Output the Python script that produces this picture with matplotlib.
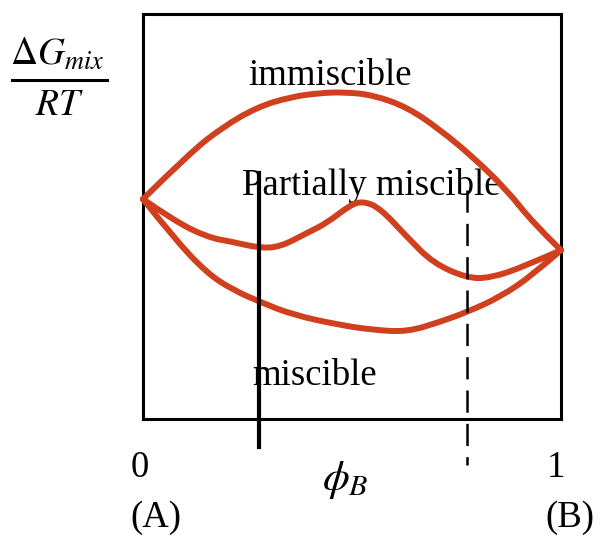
import matplotlib
matplotlib.use("Agg")
import matplotlib.pyplot as plt
from matplotlib.lines import Line2D
from matplotlib.path import Path
from matplotlib.patches import PathPatch

plt.rcParams['mathtext.fontset'] = 'stix'
plt.rcParams['lines.scale_dashes'] = False

# ---- data (phi_B, Delta G_mix / RT in arbitrary units) ----
imm_x = [0.0, 0.112, 0.191, 0.273, 0.352, 0.423, 0.483, 0.550, 0.632, 0.711, 0.789, 0.871, 0.933, 1.0]
imm_y = [0.543, 0.657, 0.721, 0.770, 0.795, 0.805, 0.807, 0.800, 0.770, 0.714, 0.647, 0.565, 0.484, 0.417]

part_x = [0.0, 0.072, 0.153, 0.215, 0.280, 0.328, 0.392, 0.440, 0.495, 0.526, 0.567, 0.632, 0.694, 0.775, 0.830, 0.909, 1.0]
part_y = [0.543, 0.491, 0.449, 0.437, 0.422, 0.425, 0.459, 0.484, 0.528, 0.538, 0.521, 0.449, 0.385, 0.348, 0.348, 0.375, 0.417]

mis_x = [0.0, 0.072, 0.153, 0.215, 0.280, 0.359, 0.471, 0.550, 0.632, 0.711, 0.775, 0.854, 0.933, 1.0]
mis_y = [0.543, 0.449, 0.360, 0.319, 0.289, 0.257, 0.232, 0.220, 0.215, 0.240, 0.264, 0.301, 0.356, 0.417]

binodal_x = 0.2775   # solid marker
spinodal_x = 0.775   # dashed marker

region_labels = ["immiscible", "Partially miscible", "miscible"]
tick_labels = ["0", "1"]
end_labels = ["(A)", "(B)"]


def smooth_path(xs, ys):
    """Quadratic B-spline style path through the sketched points."""
    pts = list(zip(xs, ys))
    verts = [pts[0]]
    codes = [Path.MOVETO]
    n = len(pts)
    for i in range(1, n - 1):
        ctrl = pts[i]
        if i < n - 2:
            end = ((pts[i][0] + pts[i + 1][0]) / 2, (pts[i][1] + pts[i + 1][1]) / 2)
        else:
            end = pts[n - 1]
        verts += [ctrl, end]
        codes += [Path.CURVE3, Path.CURVE3]
    return Path(verts, codes)


W, H = 599, 536
fig = plt.figure(figsize=(W / 100, H / 100), dpi=100)
ax = fig.add_axes([143 / W, 1 - 419 / H, (561 - 143) / W, (419 - 14) / H])
ax.set_xlim(0, 1)
ax.set_ylim(0, 1)
ax.set_xticks([])
ax.set_yticks([])
for s in ax.spines.values():
    s.set_linewidth(2.2)
    s.set_color('black')

red = '#D0401E'
for xs, ys in [(imm_x, imm_y), (part_x, part_y), (mis_x, mis_y)]:
    patch = PathPatch(smooth_path(xs, ys), facecolor='none', edgecolor=red, lw=4.3,
                      joinstyle='round', capstyle='round', clip_on=False, zorder=3)
    ax.add_patch(patch)

ax.plot([binodal_x, binodal_x], [0.607, -0.069], color='black', lw=3.0, clip_on=False, zorder=4)
ax.plot([spinodal_x, spinodal_x], [0.565, -0.114], color='black', lw=1.8, clip_on=False,
        dashes=(16, 8), zorder=4)

serif = 'Liberation Serif'
fs = 26.5
ax.text(0.251, 0.825, region_labels[0], fontsize=fs, family=serif, ha='left', va='baseline', zorder=5)
ax.text(0.237, 0.553, region_labels[1], fontsize=fs, family=serif, ha='left', va='baseline', zorder=2)
ax.text(0.261, 0.084, region_labels[2], fontsize=fs, family=serif, ha='left', va='baseline', zorder=2)

ax.text(-0.007, -0.143, tick_labels[0], fontsize=fs, family=serif, ha='center', va='baseline', clip_on=False)
ax.text(0.988, -0.143, tick_labels[1], fontsize=fs, family=serif, ha='center', va='baseline', clip_on=False)
ax.text(-0.031, -0.267, end_labels[0], fontsize=fs, family=serif, ha='left', va='baseline', clip_on=False)
ax.text(0.962, -0.267, end_labels[1], fontsize=fs, family=serif, ha='left', va='baseline', clip_on=False)

# x-axis symbol
fig.text(345 / W, 1 - 490 / H, r'$\phi_B$', fontsize=31, ha='center', va='baseline')

# y-axis label as a stacked fraction
fig.text(57 / W, 1 - 65 / H, r'$\Delta G_{mix}$', fontsize=27, ha='center', va='baseline')
fig.text(60 / W, 1 - 115 / H, r'$RT$', fontsize=27, ha='center', va='baseline')
fig.add_artist(Line2D([12 / W, 107 / W], [1 - 80 / H, 1 - 80 / H], color='black', lw=2.2,
                      transform=fig.transFigure))

fig.savefig('out.png', dpi=100, facecolor='white')
